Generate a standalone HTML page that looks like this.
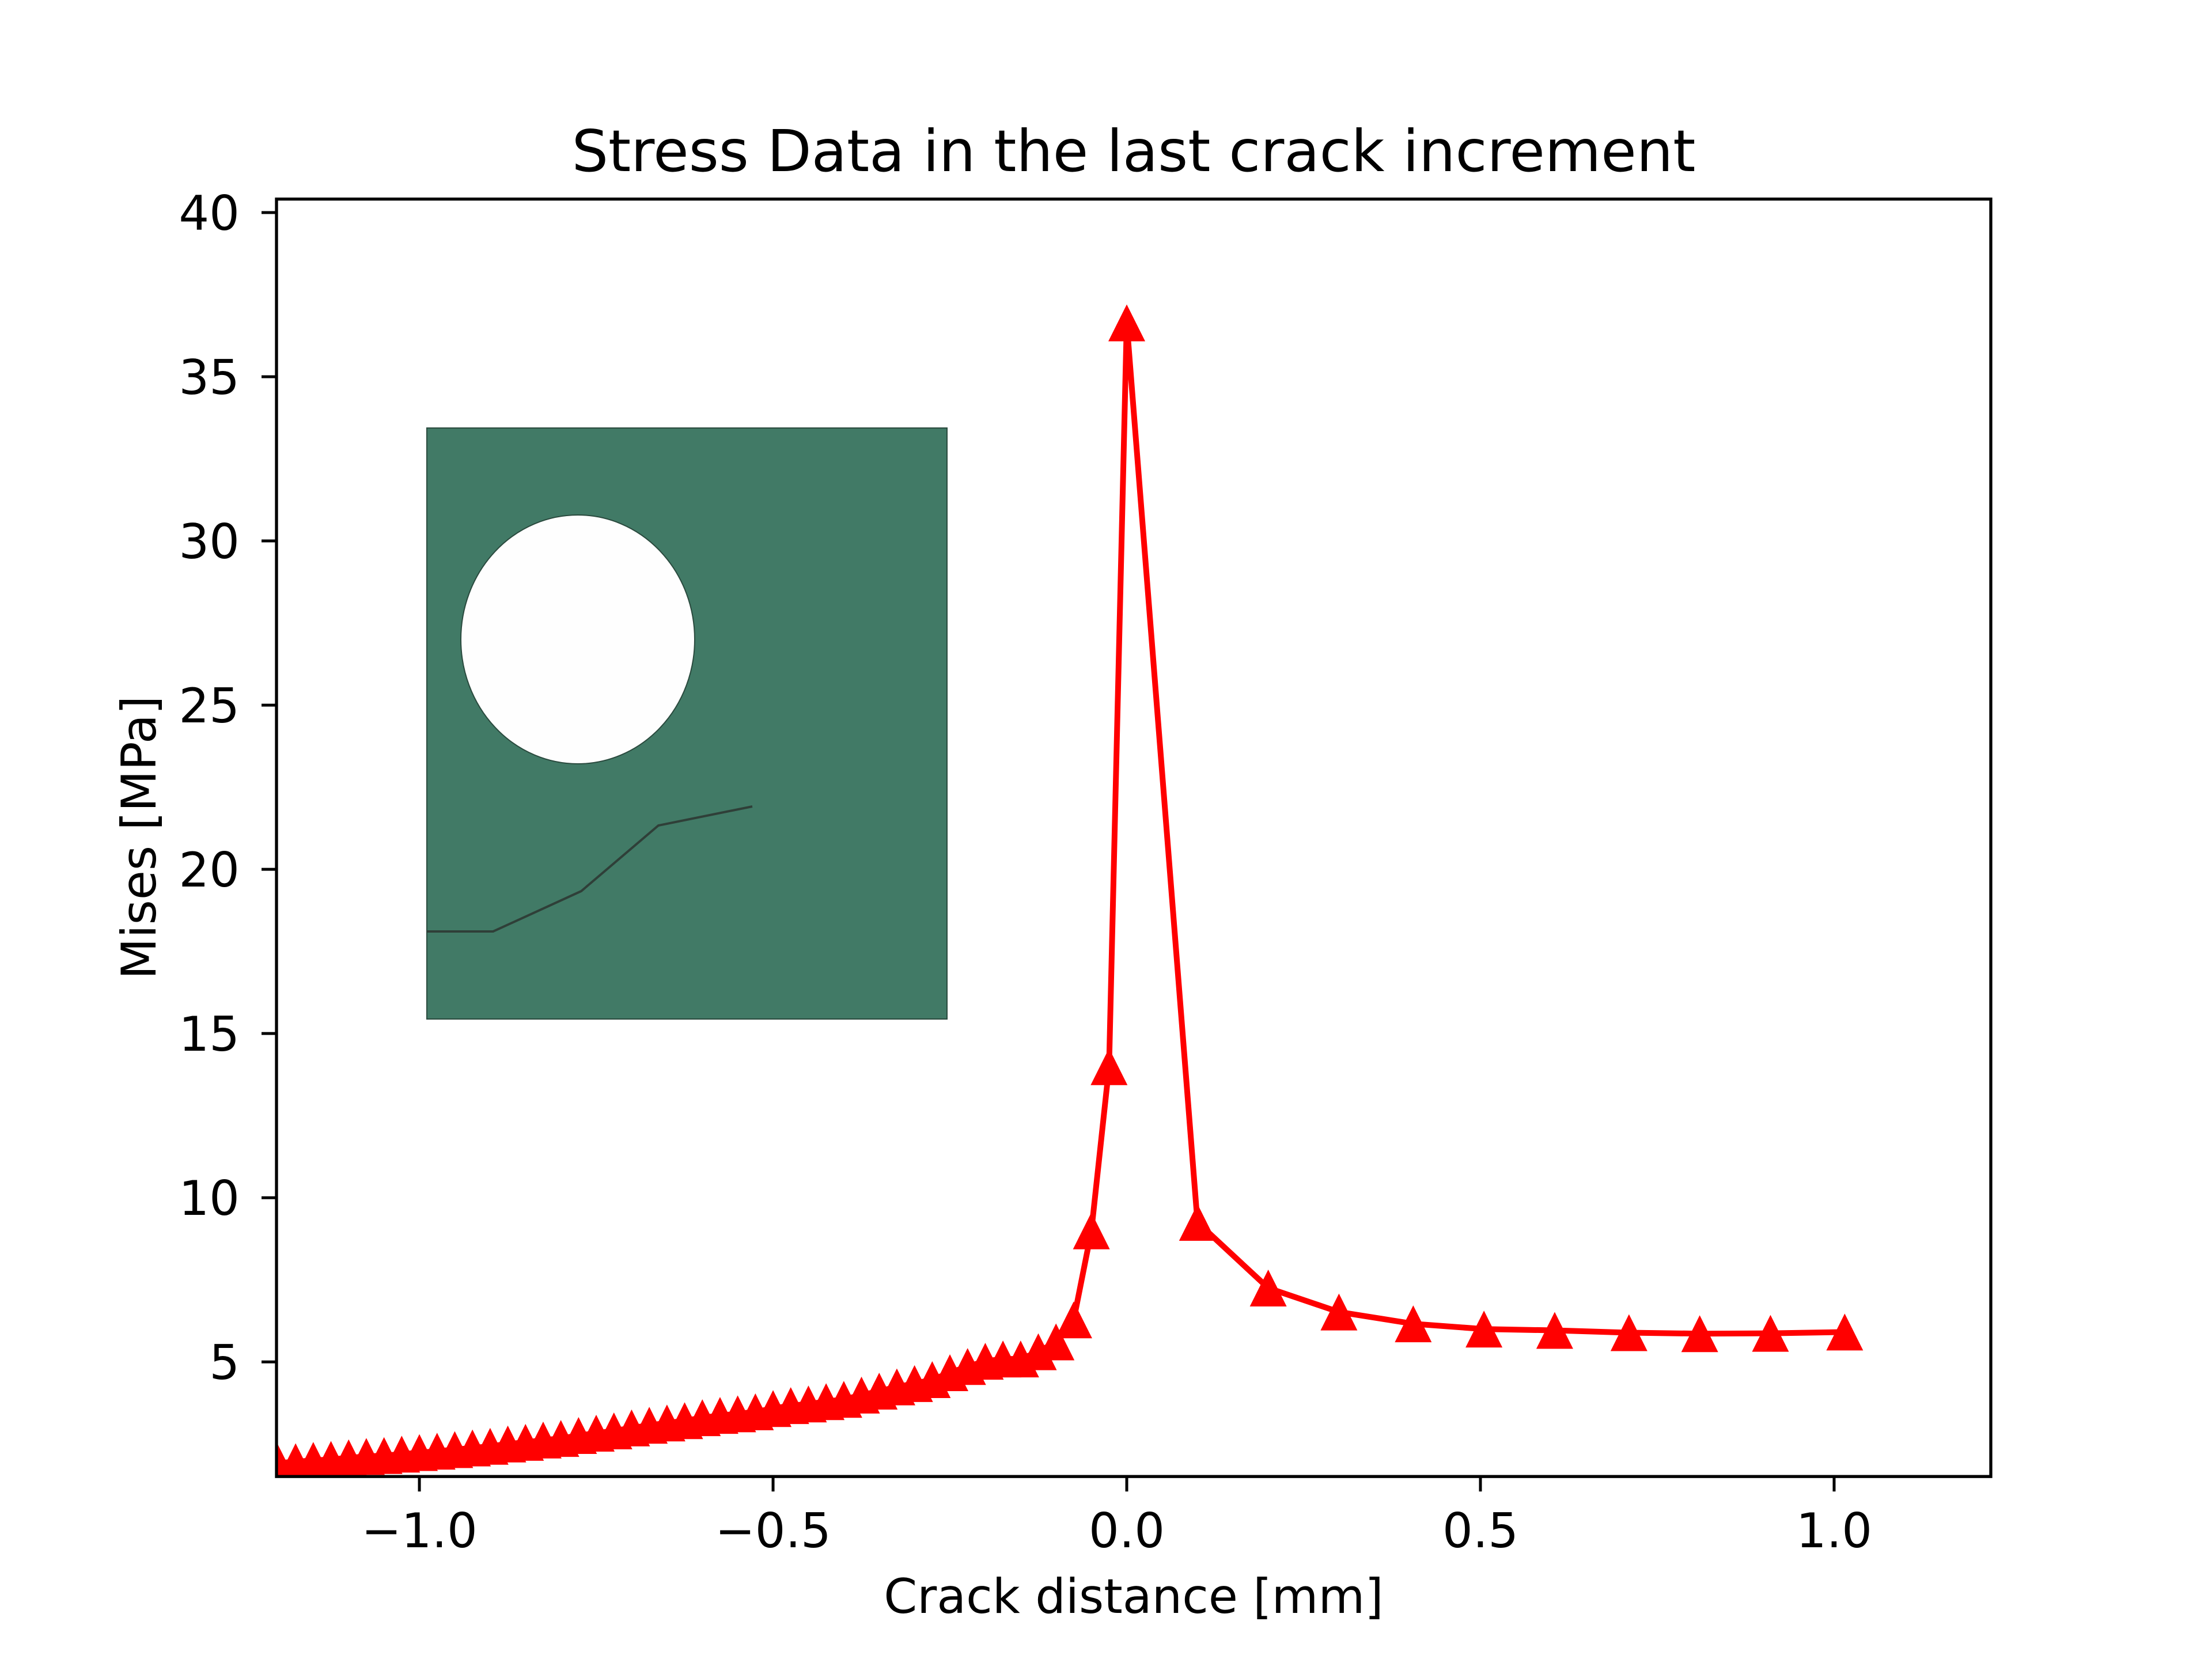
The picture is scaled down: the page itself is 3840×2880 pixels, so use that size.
<!DOCTYPE html>
<html><head><meta charset="utf-8"><style>
html,body{margin:0;padding:0;background:#fff;}
svg{display:block;font-family:"DejaVu Sans","Liberation Sans",sans-serif;}
</style></head><body>
<svg id="chart" width="3840" height="2880" viewBox="0 0 3840 2880" xmlns="http://www.w3.org/2000/svg">
<rect x="0" y="0" width="3840" height="2880" fill="#fff"/>
<text x="1968" y="297" font-size="100" text-anchor="middle">Stress Data in the last crack increment</text>
<g>
<rect x="741" y="743" width="903" height="1026" fill="#417a66" stroke="#2a4a3e" stroke-width="2"/>
<ellipse cx="1003" cy="1110" rx="203" ry="216" fill="#fefefe" stroke="#2a4a3e" stroke-width="2"/>
<polyline points="741,1617 856,1617 1009,1547 1143,1433 1306,1400" fill="none" stroke="#2f3f38" stroke-width="4"/>
</g>
<g id="marks"></g>
<rect x="480" y="345.6" width="2976" height="2217.6" fill="none" stroke="#000" stroke-width="5.3"/>
<g id="axes"></g>
<text x="1968" y="2800" font-size="83" text-anchor="middle">Crack distance [mm]</text>
<text x="0" y="0" font-size="83" text-anchor="middle" transform="translate(270,1454) rotate(-90)">Mises [MPa]</text>
</svg>
<script>
const xData = [-1.2,-1.175,-1.15,-1.125,-1.1,-1.075,-1.05,-1.025,-1.0,-0.975,-0.95,-0.925,-0.9,-0.875,-0.85,-0.825,-0.8,-0.775,-0.75,-0.725,-0.7,-0.675,-0.65,-0.625,-0.6,-0.575,-0.55,-0.525,-0.5,-0.475,-0.45,-0.425,-0.4,-0.375,-0.35,-0.325,-0.3,-0.275,-0.25,-0.225,-0.2,-0.175,-0.15,-0.125,-0.1,-0.075,-0.05,-0.025,0.0,0.1,0.2,0.3,0.405,0.505,0.605,0.71,0.81,0.91,1.015];
const yData = [1.92,1.96,2.0,2.03,2.08,2.12,2.15,2.19,2.24,2.28,2.33,2.38,2.43,2.5,2.55,2.62,2.67,2.76,2.83,2.9,2.99,3.07,3.14,3.21,3.3,3.37,3.42,3.48,3.58,3.67,3.72,3.79,3.86,3.99,4.11,4.24,4.34,4.46,4.67,4.86,5.02,5.09,5.09,5.31,5.61,6.28,8.99,13.99,36.64,9.25,7.25,6.52,6.16,6.0,5.96,5.89,5.86,5.87,5.91];
const xTicks = [-1.0,-0.5,0.0,0.5,1.0];
const xTickLabels = ["\u22121.0","\u22120.5","0.0","0.5","1.0"];
const yTicks = [5,10,15,20,25,30,35,40];
const yTickLabels = ["5","10","15","20","25","30","35","40"];
const xMin=-1.202, xMax=1.2215, yMin=1.51, yMax=40.41;
const L=480,R=3456,T=345.6,B=2563.2;
function sx(v){return L+(v-xMin)/(xMax-xMin)*(R-L);}
function sy(v){return B-(v-yMin)/(yMax-yMin)*(B-T);}
const NS="http://www.w3.org/2000/svg";
const marks=document.getElementById('marks');
const axes=document.getElementById('axes');
const clip=document.createElementNS(NS,'clipPath');clip.setAttribute('id','pc');
const cr=document.createElementNS(NS,'rect');cr.setAttribute('x',L);cr.setAttribute('y',T);cr.setAttribute('width',R-L);cr.setAttribute('height',B-T);
clip.appendChild(cr);marks.appendChild(clip);
const g=document.createElementNS(NS,'g');g.setAttribute('clip-path','url(#pc)');marks.appendChild(g);
const line=document.createElementNS(NS,'polyline');


line.setAttribute('points',xData.map((x,i)=>sx(x)+','+sy(yData[i])).join(' '));
line.setAttribute('fill','none');line.setAttribute('stroke','#ff0000');line.setAttribute('stroke-width','10');line.setAttribute('stroke-linejoin','round');
g.appendChild(line);
const h=32;
xData.forEach((x,i)=>{
  const cx=sx(x),cy=sy(yData[i]);
  const p=document.createElementNS(NS,'polygon');
  
  
  p.setAttribute('points',`${cx},${cy-h} ${cx-h},${cy+h} ${cx+h},${cy+h}`);
  p.setAttribute('fill','#ff0000');
  g.appendChild(p);
});
xTicks.forEach((v,i)=>{
  const t=document.createElementNS(NS,'line');
  
  
  t.setAttribute('x1',sx(v));t.setAttribute('x2',sx(v));t.setAttribute('y1',B);t.setAttribute('y2',B+26);
  t.setAttribute('stroke','#000');t.setAttribute('stroke-width','5');
  axes.appendChild(t);
  const s=document.createElementNS(NS,'text');
  
  
  s.setAttribute('x',sx(v));s.setAttribute('y',2686);s.setAttribute('font-size','83');s.setAttribute('text-anchor','middle');
  s.textContent=xTickLabels[i];
  axes.appendChild(s);
});
yTicks.forEach((v,i)=>{
  const t=document.createElementNS(NS,'line');
  
  
  t.setAttribute('x1',L-26);t.setAttribute('x2',L);t.setAttribute('y1',sy(v));t.setAttribute('y2',sy(v));
  t.setAttribute('stroke','#000');t.setAttribute('stroke-width','5');
  axes.appendChild(t);
  const s=document.createElementNS(NS,'text');
  
  
  s.setAttribute('x',416);s.setAttribute('y',sy(v)+30);s.setAttribute('font-size','83');s.setAttribute('text-anchor','end');
  s.textContent=yTickLabels[i];
  axes.appendChild(s);
});
</script>
</body></html>
